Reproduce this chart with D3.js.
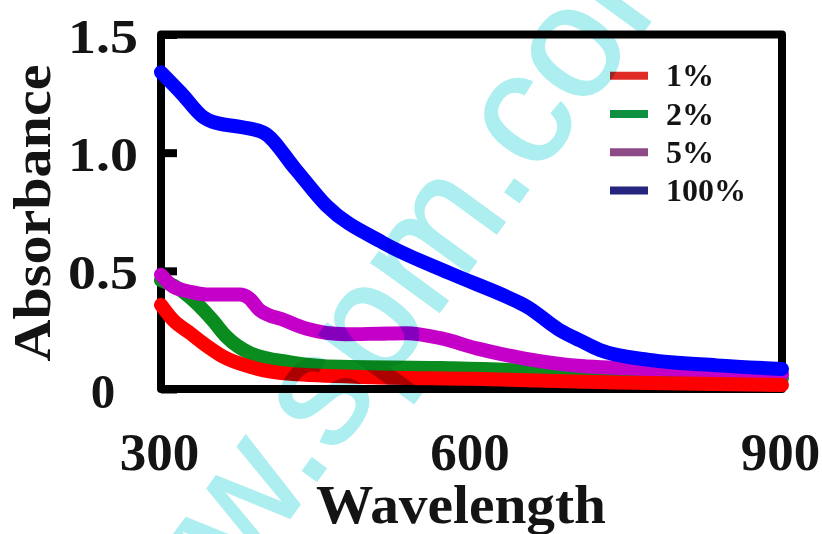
<!DOCTYPE html>
<html><head><meta charset="utf-8">
<script src="https://cdn.jsdelivr.net/npm/d3@7"></script>
<style>html,body{margin:0;padding:0;background:#fff;}svg{display:block;}</style>
</head><body>
<svg id="chart" width="822" height="534"></svg>
<script>
// ---- data ----
const seriesNames = ["1%", "2%", "5%", "100%"];

const wl1  = [300, 312, 328, 345, 360, 386, 425, 505, 600, 740, 900];
const abs1 = [0.356, 0.29, 0.237, 0.18, 0.137, 0.094, 0.064, 0.05, 0.043, 0.028, 0.017];

const wl2  = [300, 315, 334, 350, 363, 386, 425, 473, 570, 680, 705, 780, 900];
const abs2 = [0.46, 0.43, 0.364, 0.29, 0.222, 0.152, 0.113, 0.094, 0.089, 0.07, 0.06, 0.052, 0.047];

const wl5  = [300, 312, 330, 344, 376, 385, 395, 420, 441, 478, 510, 537, 570, 605, 650, 706, 804, 900];
const abs5 = [0.483, 0.433, 0.41, 0.40, 0.40, 0.385, 0.335, 0.29, 0.255, 0.232, 0.234, 0.236, 0.215, 0.172, 0.13, 0.097, 0.08, 0.062];

const wl100  = [300, 320, 341, 350, 375, 399, 430, 460, 514, 579, 644, 653, 685, 705, 724, 772, 837, 900];
const abs100 = [1.34, 1.25, 1.15, 1.13, 1.11, 1.085, 0.93, 0.775, 0.62, 0.49, 0.37, 0.35, 0.25, 0.205, 0.165, 0.123, 0.10, 0.085];

const xTicks = [300, 600, 900];
const yTicks = [0, 0.5, 1.0, 1.5];
const yTickLabels = ["0", "0.5", "1.0", "1.5"];
const xLabel = "Wavelength";
const yLabel = "Absorbance";
const watermarkText = "www.spm.com";

// ---- drawing ----
const svg = d3.select("#chart");
const pL = 161, pR = 782, pT = 34.5, pB = 389;
const x = d3.scaleLinear().domain([300, 900]).range([pL, pR]);
const y = d3.scaleLinear().domain([0, 1.5]).range([pB, pT]);

const serif = "'Liberation Serif','Times New Roman',serif";
const ink = "#141414";

const lineColors = ["#ff0000", "#0a8c1e", "#c400c8", "#0000ff"];
const legendColors = ["#e02a26", "#0f9040", "#8e4a86", "#252580"];

// frame
svg.append("rect")
  .attr("x", pL).attr("y", pT)
  .attr("width", pR - pL).attr("height", pB - pT)
  .attr("fill", "none").attr("stroke", "#000").attr("stroke-width", 8)
  .attr("stroke-linejoin", "round");

// y axis (inward ticks)
const yAxis = svg.append("g").attr("transform", `translate(${pL},0)`)
  .call(d3.axisLeft(y).tickValues(yTicks).tickSize(-16).tickFormat((d, i) => yTickLabels[i]));
yAxis.select(".domain").remove();
yAxis.selectAll(".tick line").attr("stroke", "#000").attr("stroke-width", 8);
yAxis.selectAll(".tick text")
  .attr("x", 103 - pL).attr("dy", 18).attr("text-anchor", "middle")
  .attr("fill", ink).style("font-family", serif).style("font-weight", "bold").style("font-size", "49px")
  .each(function (d, i) { if (yTickLabels[i].length > 1) d3.select(this).attr("textLength", 70).attr("lengthAdjust", "spacingAndGlyphs"); });

// x axis
const xAxis = svg.append("g").attr("transform", `translate(0,${pB})`)
  .call(d3.axisBottom(x).tickValues(xTicks).tickSize(0).tickFormat(d3.format("d")));
xAxis.select(".domain").remove();
xAxis.selectAll(".tick text")
  .attr("x", -2).attr("y", 81).attr("dy", 0).attr("text-anchor", "middle")
  .attr("fill", ink).style("font-family", serif).style("font-weight", "bold").style("font-size", "53px");

// axis titles
svg.append("text").text(xLabel)
  .attr("x", 461).attr("y", 523).attr("text-anchor", "middle")
  .attr("textLength", 290).attr("lengthAdjust", "spacingAndGlyphs")
  .attr("fill", ink).style("font-family", serif).style("font-weight", "bold").style("font-size", "54px");

svg.append("text").text(yLabel)
  .attr("transform", "translate(50,213) rotate(-90)").attr("text-anchor", "middle")
  .attr("textLength", 297).attr("lengthAdjust", "spacingAndGlyphs")
  .attr("fill", ink).style("font-family", serif).style("font-weight", "bold").style("font-size", "52px");

// curves
const data = [
  { wl: wl1, abs: abs1 },
  { wl: wl2, abs: abs2 },
  { wl: wl5, abs: abs5 },
  { wl: wl100, abs: abs100 }
];
const line = d3.line().x(d => x(d[0])).y(d => y(d[1])).curve(d3.curveMonotoneX);
const drawOrder = [1, 2, 3, 0];
drawOrder.forEach(k => {
  const pts = data[k].wl.map((w, i) => [w, data[k].abs[i]]);
  svg.append("path").attr("d", line(pts))
    .attr("fill", "none").attr("stroke", lineColors[k]).attr("stroke-width", 14)
    .attr("stroke-linecap", "round").attr("stroke-linejoin", "round");
});

// legend
const leg = svg.append("g");
seriesNames.forEach((name, i) => {
  const ly = 75.7 + i * 38.3;
  leg.append("line").attr("x1", 610).attr("x2", 648).attr("y1", ly).attr("y2", ly)
    .attr("stroke", legendColors[i]).attr("stroke-width", 8);
  leg.append("text").text(name).attr("x", 666).attr("y", ly + 10.5)
    .attr("fill", ink).style("font-family", serif).style("font-weight", "bold").style("font-size", "32px");
});

// watermark
svg.append("text").text(watermarkText)
  .attr("transform", "translate(111,764) rotate(-54)")
  .attr("fill", "#adeef0")
  .attr("stroke", "#adeef0").attr("stroke-width", 2)
  .style("mix-blend-mode", "multiply")
  .style("font-family", "'Liberation Sans',Arial,sans-serif")
  .style("font-size", "159px");
</script>
</body></html>
